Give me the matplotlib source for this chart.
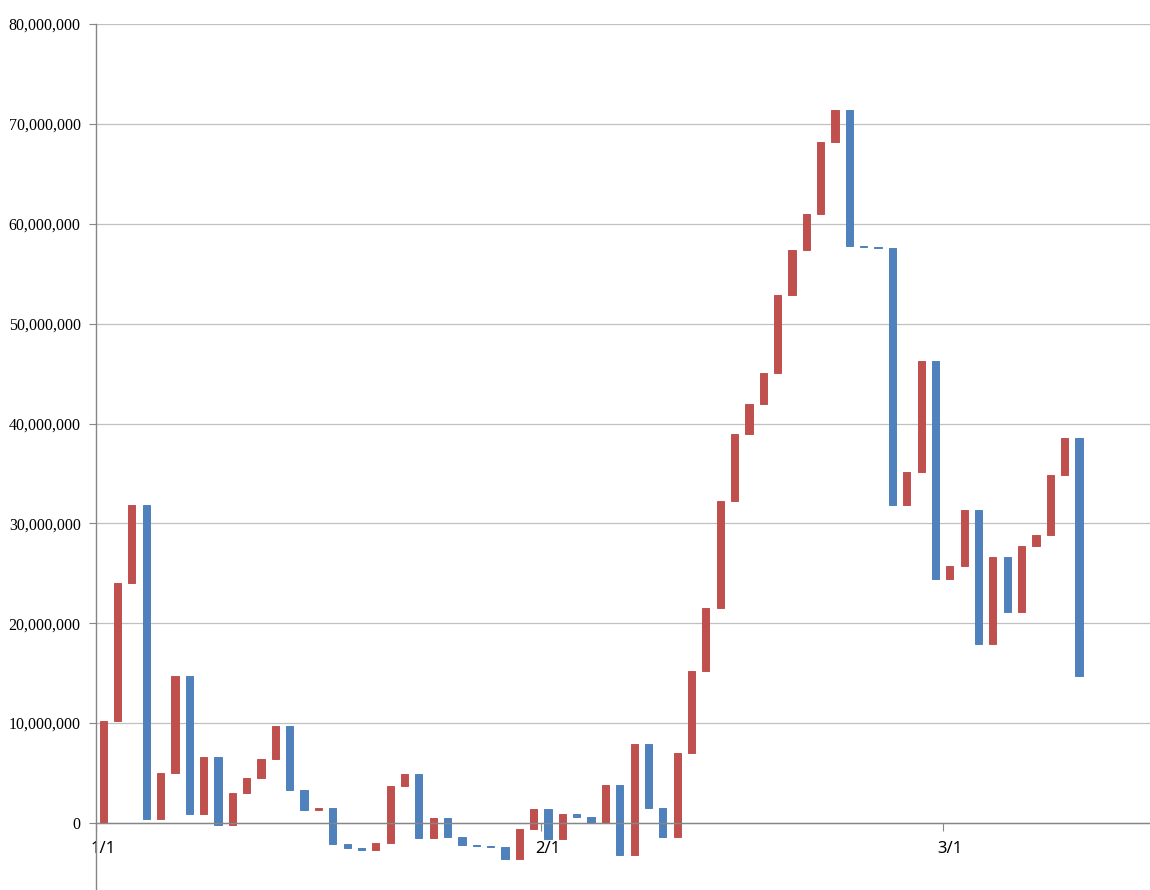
import numpy as np
import pandas as pd
import matplotlib
matplotlib.use("Agg")
import matplotlib.pyplot as plt
import matplotlib.dates as mdates
from matplotlib.ticker import FuncFormatter, FixedLocator

# ── DATA ───────────────────────────────────────────────────
# running total at the end of each day (millions)
start_day = "2019-01-01"
totals_m = [10.24, 24.04, 31.8, 0.44, 5.02, 14.7, 0.94, 6.63, -0.17, 3.01,
            4.52, 6.43, 9.74, 3.35, 1.3, 1.5, -2.15, -2.55, -2.75, -2.05,
            3.75, 4.95, -1.47, 0.5, -1.4, -2.2, -2.3, -2.4, -3.65, -0.6,
            1.4, -1.65, 0.95, 0.6, 0.0, 3.8, -3.2, 7.9, 1.55, -1.4,
            7.0, 15.25, 21.5, 32.2, 38.9, 42.0, 45.1, 52.9, 57.4, 61.0,
            68.2, 71.4, 57.75, 57.65, 57.55, 31.8, 35.1, 46.3, 24.4, 25.7,
            31.3, 17.9, 26.6, 21.1, 27.7, 28.8, 34.85, 38.5, 14.7]
month_starts = ["2019-01-01", "2019-02-01", "2019-03-01"]
month_labels = ["1/1", "2/1", "3/1"]
y_ticks = [0, 10e6, 20e6, 30e6, 40e6, 50e6, 60e6, 70e6, 80e6]

RED = "#C0504D"
BLUE = "#4F81BD"

# ── OPEN / CLOSE FOR EACH DAY ──────────────────────────────
closes = np.array(totals_m) * 1e6
opens = np.concatenate([[0.0], closes[:-1]])
dates = pd.date_range(start_day, periods=len(closes), freq="D")
centers = mdates.date2num(dates) + 0.5
colors = [RED if c >= o else BLUE for o, c in zip(opens, closes)]

# ── PLOT ───────────────────────────────────────────────────
fig = plt.figure(figsize=(11.5, 8.9), dpi=100)
ax = fig.add_axes([96 / 1150, 0.0, 1 - 96 / 1150, 1 - 24 / 890])

ax.bar(centers, closes - opens, bottom=opens, width=0.5,
       color=colors, edgecolor=colors, linewidth=0.7, zorder=3)

day0 = mdates.date2num(pd.Timestamp(start_day))
ax.set_xlim(day0, day0 + 73.45)
ax.set_ylim(-6.708e6, 80e6)

# y axis
ax.set_yticks(y_ticks)
ax.yaxis.set_major_formatter(FuncFormatter(lambda v, p: f"{int(v):,}"))
ax.tick_params(axis="y", length=5, width=0.8, color="#868686", pad=6,
               labelsize=11.5)
for lab in ax.get_yticklabels():
    lab.set_family("Liberation Serif")
ax.yaxis.grid(True, color="#C0C0C0", linewidth=0.9, zorder=0)

# x axis sits on the zero line, labels centred on each month's first bar
ax.spines["bottom"].set_position(("data", 0))
ms = mdates.date2num(pd.to_datetime(month_starts))
ax.xaxis.set_major_locator(FixedLocator(ms))
ax.xaxis.set_major_formatter(FuncFormatter(lambda v, p: ""))
ax.xaxis.set_minor_locator(FixedLocator(ms + 0.5))
ax.xaxis.set_minor_formatter(FuncFormatter(
    lambda v, p: month_labels[int(np.argmin(np.abs(ms + 0.5 - v)))]))
ax.tick_params(axis="x", which="major", length=6, width=0.8, color="#868686")
ax.tick_params(axis="x", which="minor", length=0, pad=13, labelsize=12)
for lab in ax.get_xticklabels(minor=True):
    lab.set_family("Noto Sans")

for side in ["top", "right"]:
    ax.spines[side].set_visible(False)
for side in ["left", "bottom"]:
    ax.spines[side].set_color("#868686")
    ax.spines[side].set_linewidth(1.0)
    ax.spines[side].set_zorder(4)

fig.savefig("out.png", dpi=100)
